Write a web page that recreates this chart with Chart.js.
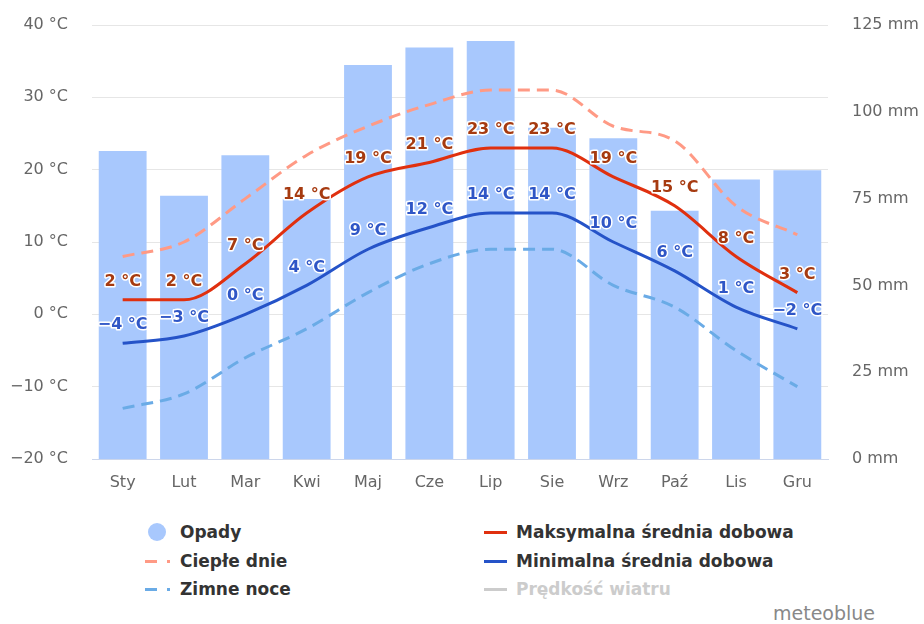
<!DOCTYPE html>
<html>
<head>
<meta charset="utf-8">
<script src="https://cdn.jsdelivr.net/npm/chart.js@4.4.1/dist/chart.umd.min.js"></script>
<style>
  body { margin: 0; background: #fff; font-family: "DejaVu Sans", sans-serif; }
  #wrap { position: relative; width: 924px; height: 624px; }
  #box { position: absolute; left: 0; top: 0; width: 924px; height: 500px; }
  .lg { position: absolute; font-weight: bold; font-size: 17px; color: #333; line-height: 20px; }
  .mk { position: absolute; }
  #brand { position: absolute; left: 773px; top: 602px; font-size: 19px; color: #888; line-height: 22px; }
</style>
</head>
<body>
<div id="wrap">
  <div id="box"><canvas id="climateChart"></canvas></div>
  <div id="legend"></div>
  <div id="brand">meteoblue</div>
</div>
<script>
// DATA
const months = ['Sty', 'Lut', 'Mar', 'Kwi', 'Maj', 'Cze', 'Lip', 'Sie', 'Wrz', 'Paź', 'Lis', 'Gru'];
const precipitation = [88.7, 75.8, 87.5, 74.9, 113.5, 118.5, 120.4, 95.4, 92.4, 71.5, 80.5, 83.2];
const maxDaily = [2, 2, 7, 14, 19, 21, 23, 23, 19, 15, 8, 3];
const minDaily = [-4, -3, 0, 4, 9, 12, 14, 14, 10, 6, 1, -2];
const warmDays = [8, 10, 16, 22, 26, 29, 31, 31, 26, 24, 15, 11];
const coldNights = [-13, -11, -6, -2, 3, 7, 9, 9, 4, 1, -5, -10];

const fmtTemp = v => (v < 0 ? '\u2212' + Math.abs(v) : v) + ' °C';

// point labels with white outline (max & min lines)
const pointLabels = {
    id: 'pointLabels',
    afterDatasetsDraw(chart) {
        const ctx = chart.ctx;
        ctx.save();
        ctx.font = 'bold 16px "DejaVu Sans"';
        ctx.textAlign = 'center';
        ctx.textBaseline = 'middle';
        ctx.lineJoin = 'round';
        chart.data.datasets.forEach((ds, i) => {
            if (!ds.labelColor) return;
            const meta = chart.getDatasetMeta(i);
            meta.data.forEach((pt, j) => {
                const txt = fmtTemp(ds.data[j]);
                ctx.lineWidth = 3;
                ctx.strokeStyle = '#fff';
                ctx.strokeText(txt, pt.x, pt.y - 18);
                ctx.fillStyle = ds.labelColor;
                ctx.fillText(txt, pt.x, pt.y - 18);
            });
        });
        ctx.restore();
    }
};

const ctx = document.getElementById('climateChart').getContext('2d');
const climateChart = new Chart(ctx, {
    type: 'bar',
    data: {
        labels: months,
        datasets: [{
            type: 'line', label: 'Maksymalna średnia dobowa', data: maxDaily, yAxisID: 'yTemp',
            borderColor: '#e0300f', borderWidth: 3, pointRadius: 0, cubicInterpolationMode: 'monotone',
            labelColor: '#a63a10', order: 1
        }, {
            type: 'line', label: 'Minimalna średnia dobowa', data: minDaily, yAxisID: 'yTemp',
            borderColor: '#2553c8', borderWidth: 3, pointRadius: 0, cubicInterpolationMode: 'monotone',
            labelColor: '#2f56c6', order: 2
        }, {
            type: 'line', label: 'Ciepłe dnie', data: warmDays, yAxisID: 'yTemp',
            borderColor: '#ff9a85', borderWidth: 3, borderDash: [12, 7], pointRadius: 0,
            cubicInterpolationMode: 'monotone', order: 3
        }, {
            type: 'line', label: 'Zimne noce', data: coldNights, yAxisID: 'yTemp',
            borderColor: '#6aabe6', borderWidth: 3, borderDash: [12, 7], pointRadius: 0,
            cubicInterpolationMode: 'monotone', order: 4
        }, {
            type: 'bar', label: 'Opady', data: precipitation, yAxisID: 'yRain',
            backgroundColor: '#a8c8fd', barPercentage: 0.78, categoryPercentage: 1, order: 10
        }]
    },
    options: {
        responsive: true,
        maintainAspectRatio: false,
        animation: false,
        layout: { autoPadding: false, padding: { top: 25, left: 0, right: 0, bottom: 0 } },
        plugins: { legend: { display: false }, tooltip: { enabled: false } },
        scales: {
            x: {
                grid: { display: false, drawTicks: false },
                border: { color: '#ccd6eb', width: 1 },
                ticks: { color: '#666', font: { family: 'DejaVu Sans', size: 16 }, padding: 14 },
                afterFit: s => { s.height = 41; }
            },
            yTemp: {
                type: 'linear', position: 'left', min: -20, max: 40,
                grid: { color: '#e6e6e6', drawTicks: false },
                border: { display: false },
                ticks: { stepSize: 10, color: '#666', font: { family: 'DejaVu Sans', size: 16 }, padding: 24, callback: v => fmtTemp(v) },
                afterFit: s => { s.width = 92; s.paddingTop = 0; s.paddingBottom = 0; }
            },
            yRain: {
                type: 'linear', position: 'right', min: 0, max: 125,
                grid: { display: false, drawTicks: false },
                border: { display: false },
                ticks: { stepSize: 25, color: '#666', font: { family: 'DejaVu Sans', size: 16 }, padding: 24, callback: v => v + ' mm' },
                afterFit: s => { s.width = 96; s.paddingTop = 0; s.paddingBottom = 0; }
            }
        }
    },
    plugins: [pointLabels]
});

// HTML LEGEND
const legendItems = [
    { text: 'Opady', x: 180, y: 522, mk: 'circle', color: '#a8c8fd' },
    { text: 'Ciepłe dnie', x: 180, y: 551, mk: 'dash', color: '#ff9a85' },
    { text: 'Zimne noce', x: 180, y: 579, mk: 'dash', color: '#6aabe6' },
    { text: 'Maksymalna średnia dobowa', x: 516, y: 522, mk: 'line', color: '#e0300f' },
    { text: 'Minimalna średnia dobowa', x: 516, y: 551, mk: 'line', color: '#2553c8' },
    { text: 'Prędkość wiatru', x: 516, y: 579, mk: 'line', color: '#cccccc', textColor: '#cccccc' }
];
let legendHtml = '';
for (const it of legendItems) {
    const cy = it.y + 10;
    if (it.mk === 'circle') {
        legendHtml += `<div class="mk" style="left:${it.x - 32}px;top:${cy - 9}px;width:18px;height:18px;border-radius:50%;background:${it.color}"></div>`;
    } else if (it.mk === 'dash') {
        legendHtml += `<div class="mk" style="left:${it.x - 35}px;top:${cy - 1.5}px;width:12px;height:3px;background:${it.color}"></div>`;
        legendHtml += `<div class="mk" style="left:${it.x - 13}px;top:${cy - 1.5}px;width:3px;height:3px;background:${it.color}"></div>`;
    } else {
        legendHtml += `<div class="mk" style="left:${it.x - 32}px;top:${cy - 1.5}px;width:23px;height:3px;background:${it.color}"></div>`;
    }
    legendHtml += `<div class="lg" style="left:${it.x}px;top:${it.y}px;color:${it.textColor || '#333'}">${it.text}</div>`;
}
document.getElementById('legend').innerHTML = legendHtml;
</script>
</body>
</html>
